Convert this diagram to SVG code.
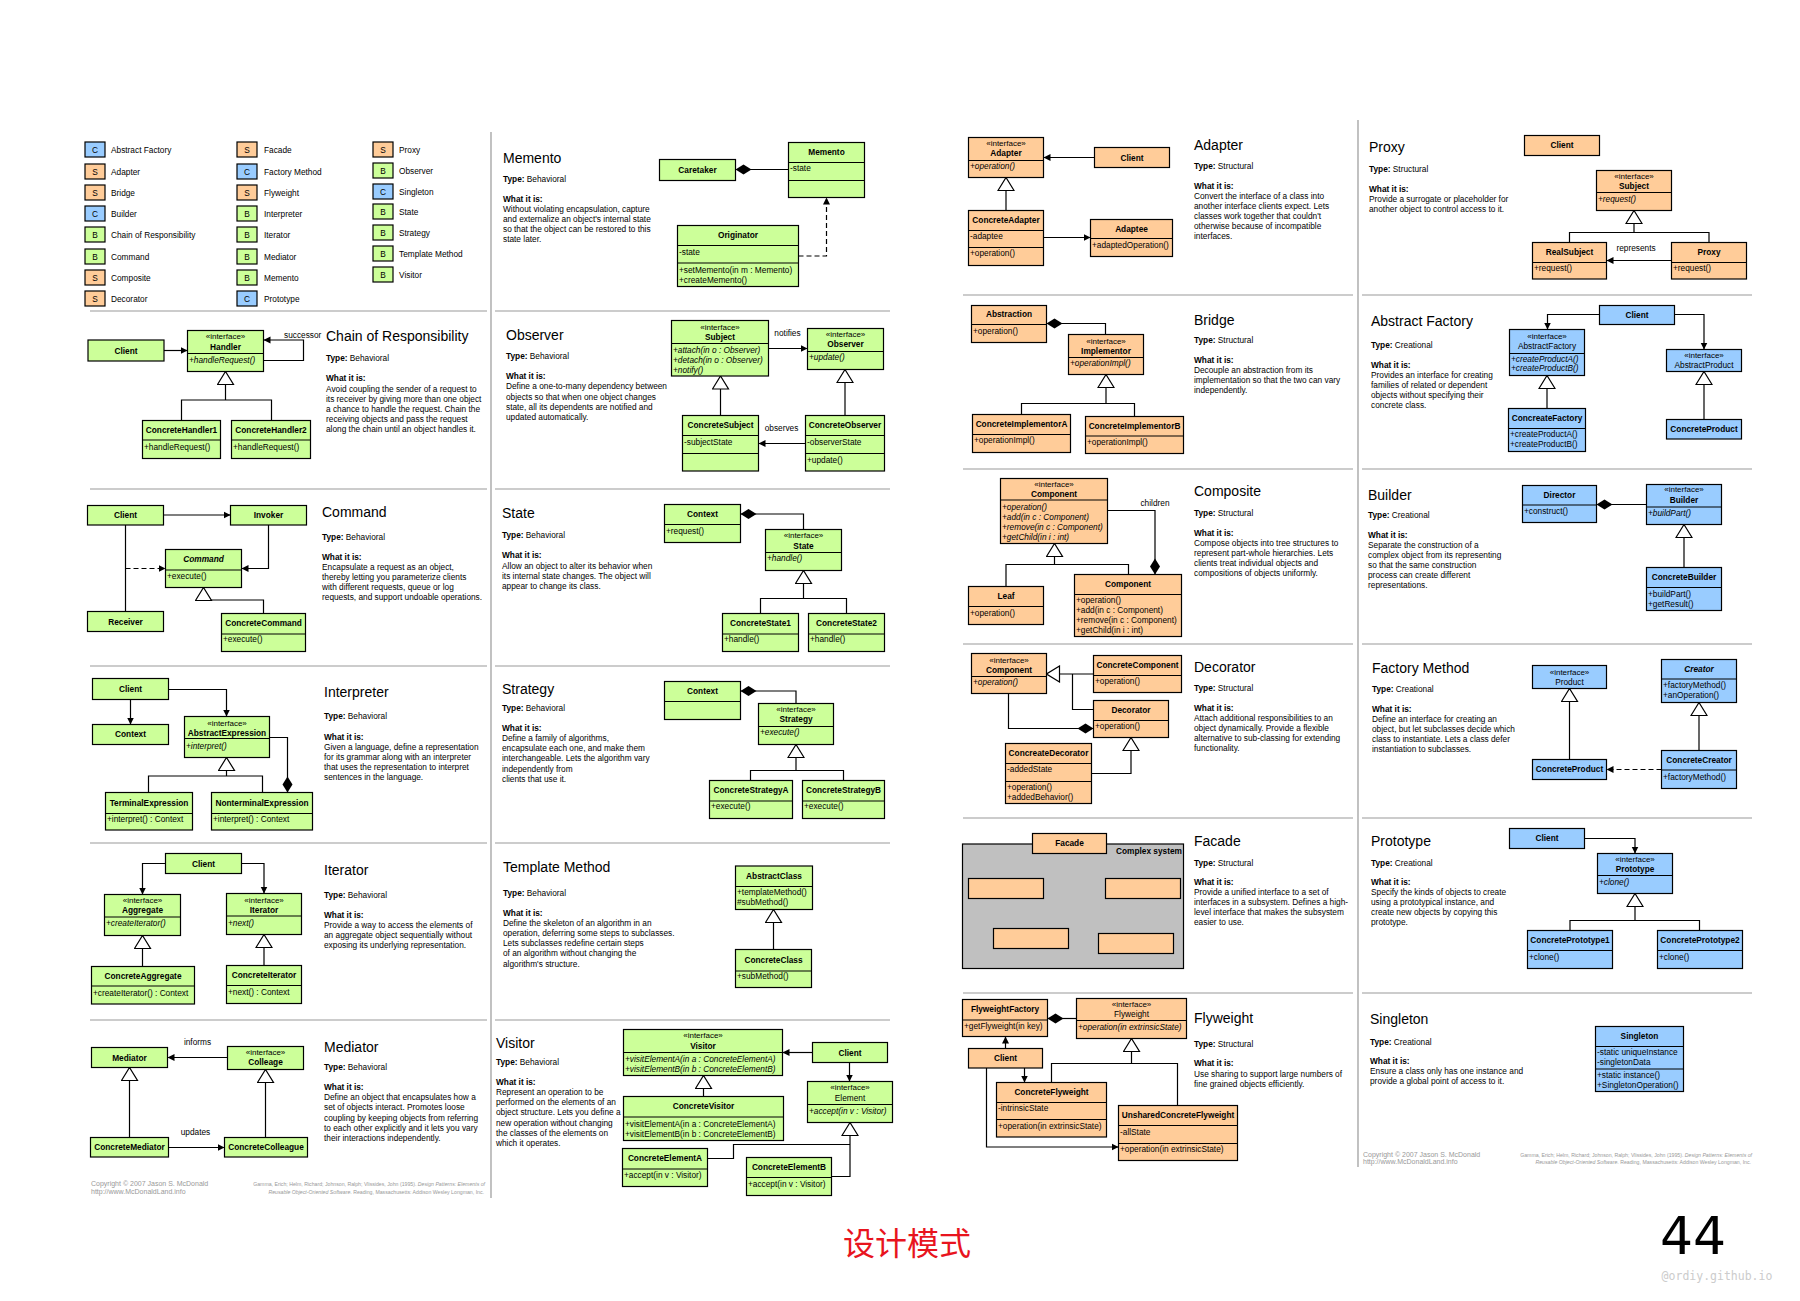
<svg xmlns="http://www.w3.org/2000/svg" width="1800" height="1301" viewBox="0 0 1800 1301">
<defs>
<style>
text{font-family:"Liberation Sans",Arial,sans-serif;font-size:8.3px;fill:#000}
.n{font-weight:bold;text-anchor:middle}
.c{text-anchor:middle}
.i{font-style:italic}
.s{text-anchor:middle;font-size:8px}
.t{font-size:14px}
.b{font-weight:bold}
.g{fill:#CCFF99;stroke:#000;stroke-width:1.2}
.o{fill:#FFCC99;stroke:#000;stroke-width:1.2}
.u{fill:#99CCFF;stroke:#000;stroke-width:1.2}
.ln{fill:none;stroke:#000;stroke-width:1.2}
.sep{stroke:#999;stroke-width:1.2}
.cn{fill:none;stroke:#000;stroke-width:1.2}
.th{fill:none;stroke:#000;stroke-width:0.8}
.da{stroke-dasharray:5,3}
.ft{font-size:7px;fill:#999}
.fc{font-size:5.2px;fill:#999;text-anchor:end}
</style>
<marker id="a" viewBox="0 -4 7 8" refX="7" refY="0" markerWidth="7" markerHeight="8" markerUnits="userSpaceOnUse" orient="auto"><path d="M0,-3.5 L7,0 L0,3.5 z" fill="#000"/></marker>
<marker id="tr" viewBox="-1 -9 15 18" refX="13" refY="0" markerWidth="15" markerHeight="18" markerUnits="userSpaceOnUse" orient="auto"><path d="M0,-8 L13,0 L0,8 z" fill="#fff" stroke="#000" stroke-width="1.2"/></marker>
<marker id="dm" viewBox="-1 -6 18 12" refX="0" refY="0" markerWidth="18" markerHeight="12" markerUnits="userSpaceOnUse" orient="auto"><path d="M0,0 L8,-5 L16,0 L8,5 z" fill="#000"/></marker>
</defs>
<rect width="1800" height="1301" fill="#fff"/>

<!-- separators -->
<g id="separators">
<path class="sep" d="M90,311H487M90,489H487M90,666H487M90,843H487M90,1020H487"/>
<path class="sep" d="M495,311H890M495,489H890M495,666H890M495,843H890M495,1020H890"/>
<path class="sep" d="M963,295H1353M963,469H1353M963,644H1353M963,818H1353M963,993H1353"/>
<path class="sep" d="M1362,295H1752M1362,469H1752M1362,644H1752M1362,818H1752M1362,993H1752"/>
<path class="sep" d="M491,132V1198M1358,120V1167"/>
</g>

<!-- legend -->
<g id="legend">
<rect class="u" x="85" y="142" width="20" height="15"/><text class="c" x="95" y="152.5">C</text><text x="111" y="152.5">Abstract Factory</text>
<rect class="o" x="85" y="164" width="20" height="15"/><text class="c" x="95" y="174.5">S</text><text x="111" y="174.5">Adapter</text>
<rect class="o" x="85" y="185" width="20" height="15"/><text class="c" x="95" y="195.5">S</text><text x="111" y="195.5">Bridge</text>
<rect class="u" x="85" y="206" width="20" height="15"/><text class="c" x="95" y="216.5">C</text><text x="111" y="216.5">Builder</text>
<rect class="g" x="85" y="227" width="20" height="15"/><text class="c" x="95" y="237.5">B</text><text x="111" y="237.5">Chain of Responsibility</text>
<rect class="g" x="85" y="249" width="20" height="15"/><text class="c" x="95" y="259.5">B</text><text x="111" y="259.5">Command</text>
<rect class="o" x="85" y="270" width="20" height="15"/><text class="c" x="95" y="280.5">S</text><text x="111" y="280.5">Composite</text>
<rect class="o" x="85" y="291" width="20" height="15"/><text class="c" x="95" y="301.5">S</text><text x="111" y="301.5">Decorator</text>
<rect class="o" x="237" y="142" width="20" height="15"/><text class="c" x="247" y="152.5">S</text><text x="264" y="152.5">Facade</text>
<rect class="u" x="237" y="164" width="20" height="15"/><text class="c" x="247" y="174.5">C</text><text x="264" y="174.5">Factory Method</text>
<rect class="o" x="237" y="185" width="20" height="15"/><text class="c" x="247" y="195.5">S</text><text x="264" y="195.5">Flyweight</text>
<rect class="g" x="237" y="206" width="20" height="15"/><text class="c" x="247" y="216.5">B</text><text x="264" y="216.5">Interpreter</text>
<rect class="g" x="237" y="227" width="20" height="15"/><text class="c" x="247" y="237.5">B</text><text x="264" y="237.5">Iterator</text>
<rect class="g" x="237" y="249" width="20" height="15"/><text class="c" x="247" y="259.5">B</text><text x="264" y="259.5">Mediator</text>
<rect class="g" x="237" y="270" width="20" height="15"/><text class="c" x="247" y="280.5">B</text><text x="264" y="280.5">Memento</text>
<rect class="u" x="237" y="291" width="20" height="15"/><text class="c" x="247" y="301.5">C</text><text x="264" y="301.5">Prototype</text>
<rect class="o" x="373" y="142" width="20" height="15"/><text class="c" x="383" y="152.5">S</text><text x="399" y="152.5">Proxy</text>
<rect class="g" x="373" y="163" width="20" height="15"/><text class="c" x="383" y="173.5">B</text><text x="399" y="173.5">Observer</text>
<rect class="u" x="373" y="184" width="20" height="15"/><text class="c" x="383" y="194.5">C</text><text x="399" y="194.5">Singleton</text>
<rect class="g" x="373" y="204" width="20" height="15"/><text class="c" x="383" y="214.5">B</text><text x="399" y="214.5">State</text>
<rect class="g" x="373" y="225" width="20" height="15"/><text class="c" x="383" y="235.5">B</text><text x="399" y="235.5">Strategy</text>
<rect class="g" x="373" y="246" width="20" height="15"/><text class="c" x="383" y="256.5">B</text><text x="399" y="256.5">Template Method</text>
<rect class="g" x="373" y="267" width="20" height="15"/><text class="c" x="383" y="277.5">B</text><text x="399" y="277.5">Visitor</text>
</g>

<!-- descriptions -->
<g id="descriptions">
<text class="t" x="326" y="341">Chain of Responsibility</text>
<text x="326" y="361"><tspan class="b">Type:</tspan> Behavioral</text>
<text class="b" x="326" y="381">What it is:</text>
<text x="326" y="391.5">Avoid coupling the sender of a request to</text>
<text x="326" y="401.5">its receiver by giving more than one object</text>
<text x="326" y="412">a chance to handle the request. Chain the</text>
<text x="326" y="422">receiving objects and pass the request</text>
<text x="326" y="432">along the chain until an object handles it.</text>

<text class="t" x="322" y="517">Command</text>
<text x="322" y="540"><tspan class="b">Type:</tspan> Behavioral</text>
<text class="b" x="322" y="560">What it is:</text>
<text x="322" y="570">Encapsulate a request as an object,</text>
<text x="322" y="580">thereby letting you parameterize clients</text>
<text x="322" y="590">with different requests, queue or log</text>
<text x="322" y="600">requests, and support undoable operations.</text>

<text class="t" x="324" y="697">Interpreter</text>
<text x="324" y="719"><tspan class="b">Type:</tspan> Behavioral</text>
<text class="b" x="324" y="740">What it is:</text>
<text x="324" y="750">Given a language, define a representation</text>
<text x="324" y="760">for its grammar along with an interpreter</text>
<text x="324" y="770">that uses the representation to interpret</text>
<text x="324" y="780">sentences in the language.</text>

<text class="t" x="324" y="875">Iterator</text>
<text x="324" y="898"><tspan class="b">Type:</tspan> Behavioral</text>
<text class="b" x="324" y="918">What it is:</text>
<text x="324" y="928">Provide a way to access the elements of</text>
<text x="324" y="938">an aggregate object sequentially without</text>
<text x="324" y="948">exposing its underlying representation.</text>

<text class="t" x="324" y="1052">Mediator</text>
<text x="324" y="1070"><tspan class="b">Type:</tspan> Behavioral</text>
<text class="b" x="324" y="1090">What it is:</text>
<text x="324" y="1100">Define an object that encapsulates how a</text>
<text x="324" y="1110">set of objects interact. Promotes loose</text>
<text x="324" y="1121">coupling by keeping objects from referring</text>
<text x="324" y="1131">to each other explicitly and it lets you vary</text>
<text x="324" y="1141">their interactions independently.</text>

<text class="t" x="503" y="163">Memento</text>
<text x="503" y="182"><tspan class="b">Type:</tspan> Behavioral</text>
<text class="b" x="503" y="202">What it is:</text>
<text x="503" y="212">Without violating encapsulation, capture</text>
<text x="503" y="222">and externalize an object's internal state</text>
<text x="503" y="232">so that the object can be restored to this</text>
<text x="503" y="242">state later.</text>

<text class="t" x="506" y="339.5">Observer</text>
<text x="506" y="358.5"><tspan class="b">Type:</tspan> Behavioral</text>
<text class="b" x="506" y="378.5">What it is:</text>
<text x="506" y="389">Define a one-to-many dependency between</text>
<text x="506" y="399.5">objects so that when one object changes</text>
<text x="506" y="410">state, all its dependents are notified and</text>
<text x="506" y="420">updated automatically.</text>

<text class="t" x="502" y="518">State</text>
<text x="502" y="538"><tspan class="b">Type:</tspan> Behavioral</text>
<text class="b" x="502" y="558">What it is:</text>
<text x="502" y="569">Allow an object to alter its behavior when</text>
<text x="502" y="579">its internal state changes. The object will</text>
<text x="502" y="589">appear to change its class.</text>

<text class="t" x="502" y="694">Strategy</text>
<text x="502" y="711"><tspan class="b">Type:</tspan> Behavioral</text>
<text class="b" x="502" y="731">What it is:</text>
<text x="502" y="741">Define a family of algorithms,</text>
<text x="502" y="751">encapsulate each one, and make them</text>
<text x="502" y="761">interchangeable. Lets the algorithm vary</text>
<text x="502" y="771.5">independently from</text>
<text x="502" y="781.5">clients that use it.</text>

<text class="t" x="503" y="871.5">Template Method</text>
<text x="503" y="896"><tspan class="b">Type:</tspan> Behavioral</text>
<text class="b" x="503" y="916">What it is:</text>
<text x="503" y="926">Define the skeleton of an algorithm in an</text>
<text x="503" y="936">operation, deferring some steps to subclasses.</text>
<text x="503" y="946">Lets subclasses redefine certain steps</text>
<text x="503" y="956">of an algorithm without changing the</text>
<text x="503" y="966.5">algorithm's structure.</text>

<text class="t" x="496" y="1047.5">Visitor</text>
<text x="496" y="1065"><tspan class="b">Type:</tspan> Behavioral</text>
<text class="b" x="496" y="1085">What it is:</text>
<text x="496" y="1095">Represent an operation to be</text>
<text x="496" y="1105">performed on the elements of an</text>
<text x="496" y="1115">object structure. Lets you define a</text>
<text x="496" y="1125.5">new operation without changing</text>
<text x="496" y="1135.5">the classes of the elements on</text>
<text x="496" y="1146">which it operates.</text>

<text class="t" x="1194" y="150">Adapter</text>
<text x="1194" y="169"><tspan class="b">Type:</tspan> Structural</text>
<text class="b" x="1194" y="189">What it is:</text>
<text x="1194" y="199">Convert the interface of a class into</text>
<text x="1194" y="209">another interface clients expect. Lets</text>
<text x="1194" y="219">classes work together that couldn't</text>
<text x="1194" y="229">otherwise because of incompatible</text>
<text x="1194" y="239">interfaces.</text>

<text class="t" x="1194" y="325">Bridge</text>
<text x="1194" y="343"><tspan class="b">Type:</tspan> Structural</text>
<text class="b" x="1194" y="363">What it is:</text>
<text x="1194" y="373">Decouple an abstraction from its</text>
<text x="1194" y="383">implementation so that the two can vary</text>
<text x="1194" y="393">independently.</text>

<text class="t" x="1194" y="496">Composite</text>
<text x="1194" y="516"><tspan class="b">Type:</tspan> Structural</text>
<text class="b" x="1194" y="536">What it is:</text>
<text x="1194" y="546">Compose objects into tree structures to</text>
<text x="1194" y="556">represent part-whole hierarchies. Lets</text>
<text x="1194" y="566">clients treat individual objects and</text>
<text x="1194" y="576">compositions of objects uniformly.</text>

<text class="t" x="1194" y="672">Decorator</text>
<text x="1194" y="691"><tspan class="b">Type:</tspan> Structural</text>
<text class="b" x="1194" y="711">What it is:</text>
<text x="1194" y="721">Attach additional responsibilities to an</text>
<text x="1194" y="731">object dynamically. Provide a flexible</text>
<text x="1194" y="741">alternative to sub-classing for extending</text>
<text x="1194" y="751">functionality.</text>

<text class="t" x="1194" y="846">Facade</text>
<text x="1194" y="866"><tspan class="b">Type:</tspan> Structural</text>
<text class="b" x="1194" y="885">What it is:</text>
<text x="1194" y="895">Provide a unified interface to a set of</text>
<text x="1194" y="905">interfaces in a subsystem. Defines a high-</text>
<text x="1194" y="915">level interface that makes the subsystem</text>
<text x="1194" y="925">easier to use.</text>

<text class="t" x="1194" y="1023">Flyweight</text>
<text x="1194" y="1047"><tspan class="b">Type:</tspan> Structural</text>
<text class="b" x="1194" y="1066">What it is:</text>
<text x="1194" y="1076.5">Use sharing to support large numbers of</text>
<text x="1194" y="1086.5">fine grained objects efficiently.</text>

<text class="t" x="1369" y="152">Proxy</text>
<text x="1369" y="172"><tspan class="b">Type:</tspan> Structural</text>
<text class="b" x="1369" y="192">What it is:</text>
<text x="1369" y="202">Provide a surrogate or placeholder for</text>
<text x="1369" y="212">another object to control access to it.</text>

<text class="t" x="1371" y="326">Abstract Factory</text>
<text x="1371" y="348"><tspan class="b">Type:</tspan> Creational</text>
<text class="b" x="1371" y="368">What it is:</text>
<text x="1371" y="378">Provides an interface for creating</text>
<text x="1371" y="388">families of related or dependent</text>
<text x="1371" y="398">objects without specifying their</text>
<text x="1371" y="408">concrete class.</text>

<text class="t" x="1368" y="500">Builder</text>
<text x="1368" y="518"><tspan class="b">Type:</tspan> Creational</text>
<text class="b" x="1368" y="538">What it is:</text>
<text x="1368" y="548">Separate the construction of a</text>
<text x="1368" y="558">complex object from its representing</text>
<text x="1368" y="568">so that the same construction</text>
<text x="1368" y="578">process can create different</text>
<text x="1368" y="588">representations.</text>

<text class="t" x="1372" y="673">Factory Method</text>
<text x="1372" y="692"><tspan class="b">Type:</tspan> Creational</text>
<text class="b" x="1372" y="712">What it is:</text>
<text x="1372" y="722">Define an interface for creating an</text>
<text x="1372" y="732">object, but let subclasses decide which</text>
<text x="1372" y="742">class to instantiate. Lets a class defer</text>
<text x="1372" y="752">instantiation to subclasses.</text>

<text class="t" x="1371" y="846">Prototype</text>
<text x="1371" y="866"><tspan class="b">Type:</tspan> Creational</text>
<text class="b" x="1371" y="885">What it is:</text>
<text x="1371" y="895">Specify the kinds of objects to create</text>
<text x="1371" y="905">using a prototypical instance, and</text>
<text x="1371" y="915">create new objects by copying this</text>
<text x="1371" y="925">prototype.</text>

<text class="t" x="1370" y="1024">Singleton</text>
<text x="1370" y="1045"><tspan class="b">Type:</tspan> Creational</text>
<text class="b" x="1370" y="1064">What it is:</text>
<text x="1370" y="1074">Ensure a class only has one instance and</text>
<text x="1370" y="1084">provide a global point of access to it.</text>
</g>

<!-- connectors -->
<g id="connectors">
<!-- CoR -->
<path class="cn" d="M164,350.5H187.5" marker-end="url(#a)"/>
<path class="cn" d="M263.5,360.5H303.5V340H263.5" marker-end="url(#a)"/>
<path class="cn" d="M181.5,420.5V400H271.5V420.5"/>
<path class="cn" d="M225.5,400V371.5" marker-end="url(#tr)"/>
<text x="284" y="338">successor</text>
<!-- Command -->
<path class="cn" d="M163.5,515H230.5" marker-end="url(#a)"/>
<path class="cn" d="M268.5,525V568.5H241.5" marker-end="url(#a)"/>
<path class="cn" d="M125.5,525V611.5"/>
<path class="cn da" d="M125.5,568.5H165.5" marker-end="url(#a)"/>
<path class="cn" d="M263.5,613.5V600H203.5"/>
<path class="cn" d="M203.5,600V587.5" marker-end="url(#tr)"/>
<!-- Interpreter -->
<path class="cn" d="M130.5,699.5V724.5" marker-end="url(#a)"/>
<path class="cn" d="M168.5,689.5H226.5V716.5" marker-end="url(#a)"/>
<path class="cn" d="M148.5,792.5V776H262.5V792.5"/>
<path class="cn" d="M226.5,776V757.5" marker-end="url(#tr)"/>
<path class="cn" d="M287.5,792.5V737.5H269.5" marker-start="url(#dm)"/>
<!-- Iterator -->
<path class="cn" d="M165.5,863.5H142.5V894.5" marker-end="url(#a)"/>
<path class="cn" d="M241.5,863.5H264V893.5" marker-end="url(#a)"/>
<path class="cn" d="M142.5,966.5V935.5" marker-end="url(#tr)"/>
<path class="cn" d="M264,965.5V934.5" marker-end="url(#tr)"/>
<!-- Mediator -->
<path class="cn" d="M227.5,1057.5H167.5" marker-end="url(#a)"/>
<text class="c" x="197.5" y="1045">informs</text>
<path class="cn" d="M129.5,1137.5V1067.5" marker-end="url(#tr)"/>
<path class="cn" d="M265.5,1137.5V1069.5" marker-end="url(#tr)"/>
<path class="cn" d="M168.5,1147.5H224.5" marker-end="url(#a)"/>
<text class="c" x="195.5" y="1135">updates</text>
<!-- Memento -->
<path class="cn" d="M735.5,169.5H788.5" marker-start="url(#dm)"/>
<path class="cn da" d="M798.5,256H826.5V197.5" marker-end="url(#a)"/>
<!-- Observer -->
<path class="cn" d="M768.5,348.5H807.5" marker-end="url(#a)"/>
<text class="c" x="787.5" y="336">notifies</text>
<path class="cn" d="M720.5,415.5V376" marker-end="url(#tr)"/>
<path class="cn" d="M845,415.5V369.5" marker-end="url(#tr)"/>
<path class="cn" d="M805.5,443.5H758.5" marker-end="url(#a)"/>
<text class="c" x="781.5" y="431">observes</text>
<!-- State -->
<path class="cn" d="M740.5,514H803.5V529.5" marker-start="url(#dm)"/>
<path class="cn" d="M760.5,613.5V598.5H846.5V613.5"/>
<path class="cn" d="M803.5,598.5V570.5" marker-end="url(#tr)"/>
<!-- Strategy -->
<path class="cn" d="M740.5,691H796V703.5" marker-start="url(#dm)"/>
<path class="cn" d="M750.5,780.5V770.5H843.5V780.5"/>
<path class="cn" d="M796,770.5V744.5" marker-end="url(#tr)"/>
<!-- Template -->
<path class="cn" d="M773.5,949.5V909.5" marker-end="url(#tr)"/>
<!-- Visitor -->
<path class="cn" d="M812.5,1052.5H782.5" marker-end="url(#a)"/>
<path class="cn" d="M849.5,1062.5V1081.5" marker-end="url(#a)"/>
<path class="cn" d="M703.5,1096.5V1075.5" marker-end="url(#tr)"/>
<path class="cn" d="M707.5,1158.5H733.5V1144.5H850"/>
<path class="cn" d="M831.5,1176.5H850V1122.5" marker-end="url(#tr)"/>
<!-- Adapter -->
<path class="cn" d="M1094.5,157.5H1043.5" marker-end="url(#a)"/>
<path class="cn" d="M1006,210.5V177.5" marker-end="url(#tr)"/>
<path class="cn" d="M1043.5,237.5H1090.5" marker-end="url(#a)"/>
<!-- Bridge -->
<path class="cn" d="M1046.5,323.5H1105.5V334.5" marker-start="url(#dm)"/>
<path class="cn" d="M1021.5,414.5V403.5H1134.5V416.5"/>
<path class="cn" d="M1106,403.5V374.5" marker-end="url(#tr)"/>
<!-- Composite -->
<path class="cn" d="M1006,586.5V564.5H1128.5V574.5"/>
<path class="cn" d="M1054.5,564.5V543.5" marker-end="url(#tr)"/>
<path class="cn" d="M1155,574.5V510.5H1107.5" marker-start="url(#dm)"/>
<text class="c" x="1155" y="506">children</text>
<!-- Decorator -->
<path class="cn" d="M1093.5,674H1046.5" marker-end="url(#tr)"/>
<path class="cn" d="M1072.5,674V709.5H1093.5"/>
<path class="cn" d="M1093.5,728.5H1008.5V693.5" marker-start="url(#dm)"/>
<path class="cn" d="M1091.5,773.5H1131V737.5" marker-end="url(#tr)"/>
<!-- Facade -->
<path class="th" d="M1069.5,853.5L1045,885" marker-end="url(#a)"/>
<path class="th" d="M1069.5,853.5L1105,886.5" marker-end="url(#a)"/>
<path class="th" d="M1069.5,853.5L1051,928" marker-end="url(#a)"/>
<path class="th" d="M1069.5,853.5L1117,933" marker-end="url(#a)"/>
<!-- Flyweight -->
<path class="cn" d="M1047.5,1018.5H1076.5" marker-start="url(#dm)"/>
<path class="cn" d="M1005.5,1048.5V1036.5" marker-end="url(#a)"/>
<path class="cn" d="M1024.5,1068V1082.5" marker-end="url(#a)"/>
<path class="cn" d="M986.5,1068V1147H1118.5" marker-end="url(#a)"/>
<path class="cn" d="M1051.5,1082.5V1063.5H1177.5V1105.5"/>
<path class="cn" d="M1131.5,1063.5V1038.5" marker-end="url(#tr)"/>
<!-- Proxy -->
<path class="cn" d="M1569.5,242.5V232.5H1709V242.5"/>
<path class="cn" d="M1634,232.5V210.5" marker-end="url(#tr)"/>
<path class="cn" d="M1671.5,260.5H1606.5" marker-end="url(#a)"/>
<text class="c" x="1636" y="251">represents</text>
<!-- Abstract Factory -->
<path class="cn" d="M1599.5,314.5H1547.5V329.5" marker-end="url(#a)"/>
<path class="cn" d="M1674.5,314.5H1704V349.5" marker-end="url(#a)"/>
<path class="cn" d="M1547,408.5V375.5" marker-end="url(#tr)"/>
<path class="cn" d="M1704,419.5V371.5" marker-end="url(#tr)"/>
<!-- Builder -->
<path class="cn" d="M1596.5,504.5H1646.5" marker-start="url(#dm)"/>
<path class="cn" d="M1684,567.5V524.5" marker-end="url(#tr)"/>
<!-- Factory Method -->
<path class="cn" d="M1569.5,759.5V688.5" marker-end="url(#tr)"/>
<path class="cn" d="M1699,750.5V702.5" marker-end="url(#tr)"/>
<path class="cn da" d="M1661.5,769.5H1606.5" marker-end="url(#a)"/>
<!-- Prototype -->
<path class="cn" d="M1584.5,838.5H1635V853.5" marker-end="url(#a)"/>
<path class="cn" d="M1570,930.5V920.5H1699.5V930.5"/>
<path class="cn" d="M1635,920.5V893.5" marker-end="url(#tr)"/>
</g>

<!-- Chain of Responsibility nodes -->
<g id="cor-client"><rect class="g" x="88" y="340" width="76" height="21"/><text class="n" x="126" y="353.5">Client</text></g>
<g id="cor-handler"><rect class="g" x="187.5" y="330.5" width="76" height="41"/><path class="ln" d="M187.5,353.5H263.5"/><text class="s" x="225.5" y="339">«interface»</text><text class="n" x="225.5" y="349.5">Handler</text><text class="i" x="189" y="362.5">+handleRequest()</text></g>
<g id="cor-ch1"><rect class="g" x="142.5" y="420.5" width="78" height="38"/><path class="ln" d="M142.5,440H220.5"/><text class="n" x="181.5" y="433">ConcreteHandler1</text><text x="144" y="450">+handleRequest()</text></g>
<g id="cor-ch2"><rect class="g" x="231.5" y="420.5" width="79" height="38"/><path class="ln" d="M231.5,440H310.5"/><text class="n" x="271" y="433">ConcreteHandler2</text><text x="233" y="450">+handleRequest()</text></g>

<!-- Command nodes -->
<g id="cmd-client"><rect class="g" x="87.5" y="505.5" width="76" height="19.5"/><text class="n" x="125.5" y="518">Client</text></g>
<g id="cmd-invoker"><rect class="g" x="230.5" y="505.5" width="76" height="19.5"/><text class="n" x="268.5" y="518">Invoker</text></g>
<g id="cmd-command"><rect class="g" x="165.5" y="549.5" width="76" height="38"/><path class="ln" d="M165.5,570H241.5"/><text class="n i" x="203.5" y="562">Command</text><text x="167" y="579">+execute()</text></g>
<g id="cmd-receiver"><rect class="g" x="87.5" y="611.5" width="76" height="20"/><text class="n" x="125.5" y="624.5">Receiver</text></g>
<g id="cmd-concrete"><rect class="g" x="221.5" y="613.5" width="84" height="38"/><path class="ln" d="M221.5,634H305.5"/><text class="n" x="263.5" y="626">ConcreteCommand</text><text x="223" y="642">+execute()</text></g>

<!-- Interpreter nodes -->
<g id="int-client"><rect class="g" x="92.5" y="678.5" width="76" height="21"/><text class="n" x="130.5" y="692">Client</text></g>
<g id="int-context"><rect class="g" x="92.5" y="724.5" width="76" height="20"/><text class="n" x="130.5" y="737">Context</text></g>
<g id="int-abstract"><rect class="g" x="184.5" y="716.5" width="85" height="41"/><path class="ln" d="M184.5,738.5H269.5"/><text class="s" x="227" y="725.5">«interface»</text><text class="n" x="227" y="736">AbstractExpression</text><text class="i" x="186" y="749">+interpret()</text></g>
<g id="int-terminal"><rect class="g" x="105.5" y="792.5" width="87" height="37.5"/><path class="ln" d="M105.5,813.5H192.5"/><text class="n" x="149" y="806">TerminalExpression</text><text x="107" y="822">+interpret() : Context</text></g>
<g id="int-nonterminal"><rect class="g" x="211.5" y="792.5" width="101" height="37.5"/><path class="ln" d="M211.5,813.5H312.5"/><text class="n" x="262" y="806">NonterminalExpression</text><text x="213" y="822">+interpret() : Context</text></g>

<!-- Iterator nodes -->
<g id="it-client"><rect class="g" x="165.5" y="853.5" width="76" height="20"/><text class="n" x="203.5" y="866.5">Client</text></g>
<g id="it-aggregate"><rect class="g" x="104.5" y="894.5" width="76" height="41"/><path class="ln" d="M104.5,917H180.5"/><text class="s" x="142.5" y="903">«interface»</text><text class="n" x="142.5" y="913">Aggregate</text><text class="i" x="106" y="925.5">+createIterator()</text></g>
<g id="it-iterator"><rect class="g" x="226.5" y="893.5" width="75" height="41"/><path class="ln" d="M226.5,916H301.5"/><text class="s" x="264" y="903">«interface»</text><text class="n" x="264" y="913">Iterator</text><text class="i" x="228" y="925.5">+next()</text></g>
<g id="it-cagg"><rect class="g" x="91.5" y="966.5" width="103" height="37.5"/><path class="ln" d="M91.5,986H194.5"/><text class="n" x="143" y="979">ConcreteAggregate</text><text x="93" y="996">+createIterator() : Context</text></g>
<g id="it-cit"><rect class="g" x="226.5" y="965.5" width="75" height="38"/><path class="ln" d="M226.5,985.5H301.5"/><text class="n" x="264" y="978">ConcreteIterator</text><text x="228" y="995">+next() : Context</text></g>

<!-- Mediator nodes -->
<g id="med-mediator"><rect class="g" x="91.5" y="1047.5" width="76" height="20"/><text class="n" x="129.5" y="1060.5">Mediator</text></g>
<g id="med-colleague"><rect class="g" x="227.5" y="1046.5" width="76" height="23"/><text class="s" x="265.5" y="1055">«interface»</text><text class="n" x="265.5" y="1065">Colleage</text></g>
<g id="med-cmed"><rect class="g" x="90.5" y="1137.5" width="78" height="19.5"/><text class="n" x="129.5" y="1150">ConcreteMediator</text></g>
<g id="med-ccol"><rect class="g" x="224.5" y="1137.5" width="83" height="19.5"/><text class="n" x="266" y="1150">ConcreteColleague</text></g>

<!-- Memento nodes -->
<g id="mem-caretaker"><rect class="g" x="659.5" y="159.5" width="76" height="21"/><text class="n" x="697.5" y="172.5">Caretaker</text></g>
<g id="mem-memento"><rect class="g" x="788.5" y="142.5" width="76" height="55"/><path class="ln" d="M788.5,162.5H864.5M788.5,180.5H864.5"/><text class="n" x="826.5" y="155">Memento</text><text x="790" y="170.5">-state</text></g>
<g id="mem-originator"><rect class="g" x="677.5" y="225.5" width="121" height="61"/><path class="ln" d="M677.5,245.5H798.5M677.5,263H798.5"/><text class="n" x="738" y="238">Originator</text><text x="679" y="255">-state</text><text x="679" y="273">+setMemento(in m : Memento)</text><text x="679" y="283">+createMemento()</text></g>

<!-- Observer nodes -->
<g id="obs-subject"><rect class="g" x="671.5" y="320.5" width="97" height="55.5"/><path class="ln" d="M671.5,343.5H768.5"/><text class="s" x="720" y="330">«interface»</text><text class="n" x="720" y="340">Subject</text><text class="i" x="673" y="353">+attach(in o : Observer)</text><text class="i" x="673" y="363">+detach(in o : Observer)</text><text class="i" x="673" y="373">+notify()</text></g>
<g id="obs-observer"><rect class="g" x="807.5" y="328.5" width="76" height="41"/><path class="ln" d="M807.5,351.5H883.5"/><text class="s" x="845.5" y="337">«interface»</text><text class="n" x="845.5" y="347">Observer</text><text class="i" x="809" y="360">+update()</text></g>
<g id="obs-csubject"><rect class="g" x="682.5" y="415.5" width="76" height="55.5"/><path class="ln" d="M682.5,435.5H758.5M682.5,453.5H758.5"/><text class="n" x="720.5" y="428">ConcreteSubject</text><text x="684" y="445">-subjectState</text></g>
<g id="obs-cobserver"><rect class="g" x="805.5" y="415.5" width="79" height="55.5"/><path class="ln" d="M805.5,435.5H884.5M805.5,453.5H884.5"/><text class="n" x="845" y="428">ConcreteObserver</text><text x="807" y="445">-observerState</text><text x="807" y="463">+update()</text></g>

<!-- State nodes -->
<g id="st-context"><rect class="g" x="664.5" y="504.5" width="76" height="38"/><path class="ln" d="M664.5,524.5H740.5"/><text class="n" x="702.5" y="517">Context</text><text x="666" y="533.5">+request()</text></g>
<g id="st-state"><rect class="g" x="765.5" y="529.5" width="76" height="41"/><path class="ln" d="M765.5,552.5H841.5"/><text class="s" x="803.5" y="538">«interface»</text><text class="n" x="803.5" y="548.5">State</text><text class="i" x="767" y="561">+handle()</text></g>
<g id="st-cs1"><rect class="g" x="722.5" y="613.5" width="76" height="38"/><path class="ln" d="M722.5,634H798.5"/><text class="n" x="760.5" y="626">ConcreteState1</text><text x="724" y="642">+handle()</text></g>
<g id="st-cs2"><rect class="g" x="808.5" y="613.5" width="76" height="38"/><path class="ln" d="M808.5,634H884.5"/><text class="n" x="846.5" y="626">ConcreteState2</text><text x="810" y="642">+handle()</text></g>

<!-- Strategy nodes -->
<g id="sg-context"><rect class="g" x="664.5" y="681.5" width="76" height="38"/><path class="ln" d="M664.5,701.5H740.5"/><text class="n" x="702.5" y="694">Context</text></g>
<g id="sg-strategy"><rect class="g" x="758.5" y="703.5" width="75" height="41"/><path class="ln" d="M758.5,726.5H833.5"/><text class="s" x="796" y="712">«interface»</text><text class="n" x="796" y="722">Strategy</text><text class="i" x="760" y="735">+execute()</text></g>
<g id="sg-a"><rect class="g" x="709.5" y="780.5" width="83" height="38"/><path class="ln" d="M709.5,801H792.5"/><text class="n" x="751" y="793">ConcreteStrategyA</text><text x="711" y="809">+execute()</text></g>
<g id="sg-b"><rect class="g" x="802.5" y="780.5" width="82" height="38"/><path class="ln" d="M802.5,801H884.5"/><text class="n" x="843.5" y="793">ConcreteStrategyB</text><text x="804" y="809">+execute()</text></g>

<!-- Template nodes -->
<g id="tm-abstract"><rect class="g" x="735.5" y="866" width="77" height="43.5"/><path class="ln" d="M735.5,886.5H812.5"/><text class="n" x="774" y="879">AbstractClass</text><text x="737" y="895">+templateMethod()</text><text x="737" y="905">#subMethod()</text></g>
<g id="tm-concrete"><rect class="g" x="735.5" y="949.5" width="76" height="38"/><path class="ln" d="M735.5,971H811.5"/><text class="n" x="773.5" y="963">ConcreteClass</text><text x="737" y="979">+subMethod()</text></g>

<!-- Visitor nodes -->
<g id="vi-visitor"><rect class="g" x="623.5" y="1029.5" width="159" height="46"/><path class="ln" d="M623.5,1052.5H782.5"/><text class="s" x="703" y="1038">«interface»</text><text class="n" x="703" y="1049">Visitor</text><text class="i" x="625" y="1062">+visitElementA(in a : ConcreteElementA)</text><text class="i" x="625" y="1072">+visitElementB(in b : ConcreteElementB)</text></g>
<g id="vi-client"><rect class="g" x="812.5" y="1042.5" width="75" height="20"/><text class="n" x="850" y="1055.5">Client</text></g>
<g id="vi-element"><rect class="g" x="807.5" y="1081.5" width="85" height="41"/><path class="ln" d="M807.5,1104.5H892.5"/><text class="s" x="850" y="1090">«interface»</text><text class="c" x="850" y="1101">Element</text><text class="i" x="809" y="1114">+accept(in v : Visitor)</text></g>
<g id="vi-cvisitor"><rect class="g" x="623.5" y="1096.5" width="160" height="44"/><path class="ln" d="M623.5,1117H783.5"/><text class="n" x="703.5" y="1109">ConcreteVisitor</text><text x="625" y="1126.5">+visitElementA(in a : ConcreteElementA)</text><text x="625" y="1136.5">+visitElementB(in b : ConcreteElementB)</text></g>
<g id="vi-cea"><rect class="g" x="622.5" y="1148.5" width="85" height="38"/><path class="ln" d="M622.5,1169H707.5"/><text class="n" x="665" y="1161">ConcreteElementA</text><text x="624" y="1178">+accept(in v : Visitor)</text></g>
<g id="vi-ceb"><rect class="g" x="746.5" y="1157.5" width="85" height="38"/><path class="ln" d="M746.5,1177.5H831.5"/><text class="n" x="789" y="1170">ConcreteElementB</text><text x="748" y="1187">+accept(in v : Visitor)</text></g>

<!-- Adapter nodes -->
<g id="ad-adapter"><rect class="o" x="968.5" y="137.5" width="75" height="40"/><path class="ln" d="M968.5,160.5H1043.5"/><text class="s" x="1006" y="146">«interface»</text><text class="n" x="1006" y="156">Adapter</text><text class="i" x="970" y="169">+operation()</text></g>
<g id="ad-client"><rect class="o" x="1094.5" y="147.5" width="75" height="20"/><text class="n" x="1132" y="160.5">Client</text></g>
<g id="ad-concrete"><rect class="o" x="968.5" y="210.5" width="75" height="55"/><path class="ln" d="M968.5,230.5H1043.5M968.5,247.5H1043.5"/><text class="n" x="1006" y="223">ConcreteAdapter</text><text x="970" y="239">-adaptee</text><text x="970" y="256">+operation()</text></g>
<g id="ad-adaptee"><rect class="o" x="1090.5" y="219.5" width="82" height="37"/><path class="ln" d="M1090.5,238.5H1172.5"/><text class="n" x="1131.5" y="232">Adaptee</text><text x="1092" y="248">+adaptedOperation()</text></g>

<!-- Bridge nodes -->
<g id="br-abstraction"><rect class="o" x="971.5" y="305.5" width="75" height="37"/><path class="ln" d="M971.5,324.5H1046.5"/><text class="n" x="1009" y="317">Abstraction</text><text x="973" y="334">+operation()</text></g>
<g id="br-implementor"><rect class="o" x="1068.5" y="334.5" width="75" height="40"/><path class="ln" d="M1068.5,357.5H1143.5"/><text class="s" x="1106" y="344">«interface»</text><text class="n" x="1106" y="354">Implementor</text><text class="i" x="1070" y="366">+operationImpl()</text></g>
<g id="br-cia"><rect class="o" x="972.5" y="414.5" width="98" height="38"/><path class="ln" d="M972.5,434.5H1070.5"/><text class="n" x="1021.5" y="427">ConcreteImplementorA</text><text x="974" y="443">+operationImpl()</text></g>
<g id="br-cib"><rect class="o" x="1085.5" y="416.5" width="98" height="37"/><path class="ln" d="M1085.5,436H1183.5"/><text class="n" x="1134.5" y="429">ConcreteImplementorB</text><text x="1087" y="445">+operationImpl()</text></g>

<!-- Composite nodes -->
<g id="co-component"><rect class="o" x="1000.5" y="478.5" width="107" height="65"/><path class="ln" d="M1000.5,500H1107.5"/><text class="s" x="1054" y="487">«interface»</text><text class="n" x="1054" y="497">Component</text><text class="i" x="1002" y="509.5">+operation()</text><text class="i" x="1002" y="519.5">+add(in c : Component)</text><text class="i" x="1002" y="529.5">+remove(in c : Component)</text><text class="i" x="1002" y="539.5">+getChild(in i : int)</text></g>
<g id="co-leaf"><rect class="o" x="968.5" y="586.5" width="75" height="38"/><path class="ln" d="M968.5,606.5H1043.5"/><text class="n" x="1006" y="599">Leaf</text><text x="970" y="616">+operation()</text></g>
<g id="co-composite"><rect class="o" x="1074.5" y="574.5" width="107" height="62"/><path class="ln" d="M1074.5,594.5H1181.5"/><text class="n" x="1128" y="587">Component</text><text x="1076" y="603">+operation()</text><text x="1076" y="613">+add(in c : Component)</text><text x="1076" y="623">+remove(in c : Component)</text><text x="1076" y="633">+getChild(in i : int)</text></g>

<!-- Decorator nodes -->
<g id="de-component"><rect class="o" x="971.5" y="653.5" width="75" height="40"/><path class="ln" d="M971.5,676.5H1046.5"/><text class="s" x="1009" y="662.5">«interface»</text><text class="n" x="1009" y="673">Component</text><text class="i" x="973" y="685">+operation()</text></g>
<g id="de-concrete"><rect class="o" x="1093.5" y="655.5" width="88" height="37"/><path class="ln" d="M1093.5,675.5H1181.5"/><text class="n" x="1137.5" y="668">ConcreteComponent</text><text x="1095" y="684">+operation()</text></g>
<g id="de-decorator"><rect class="o" x="1093.5" y="700.5" width="75" height="37"/><path class="ln" d="M1093.5,720.5H1168.5"/><text class="n" x="1131" y="713">Decorator</text><text x="1095" y="729">+operation()</text></g>
<g id="de-cdecorator"><rect class="o" x="1005.5" y="743.5" width="86" height="60"/><path class="ln" d="M1005.5,763.5H1091.5M1005.5,781.5H1091.5"/><text class="n" x="1048.5" y="756">ConcreateDecorator</text><text x="1007" y="772">-addedState</text><text x="1007" y="790">+operation()</text><text x="1007" y="800">+addedBehavior()</text></g>

<!-- Facade nodes -->
<g id="fa-system"><rect x="962.5" y="844" width="221" height="124.5" fill="#C0C0C0" stroke="#000" stroke-width="1.2"/><text class="b" x="1116" y="854">Complex system</text></g>
<g id="fa-b1"><rect class="o" x="968.5" y="878.5" width="75" height="20"/></g>
<g id="fa-b2"><rect class="o" x="1105.5" y="878.5" width="75" height="20"/></g>
<g id="fa-b3"><rect class="o" x="993.5" y="928.5" width="75" height="20"/></g>
<g id="fa-b4"><rect class="o" x="1098.5" y="933.5" width="75" height="20"/></g>
<g id="fa-facade"><rect class="o" x="1032.5" y="833.5" width="74" height="20"/><text class="n" x="1069.5" y="846">Facade</text></g>

<!-- Flyweight nodes -->
<g id="fl-factory"><rect class="o" x="962.5" y="999.5" width="85" height="37"/><path class="ln" d="M962.5,1020H1047.5"/><text class="n" x="1005" y="1012">FlyweightFactory</text><text x="964" y="1028.5">+getFlyweight(in key)</text></g>
<g id="fl-flyweight"><rect class="o" x="1076.5" y="998.5" width="110" height="40"/><path class="ln" d="M1076.5,1020.5H1186.5"/><text class="s" x="1131.5" y="1007">«interface»</text><text class="c" x="1131.5" y="1017">Flyweight</text><text class="i" x="1078" y="1030">+operation(in extrinsicState)</text></g>
<g id="fl-client"><rect class="o" x="968.5" y="1048.5" width="74" height="19.5"/><text class="n" x="1005.5" y="1061">Client</text></g>
<g id="fl-concrete"><rect class="o" x="996.5" y="1082.5" width="110" height="54.5"/><path class="ln" d="M996.5,1102.5H1106.5M996.5,1119.5H1106.5"/><text class="n" x="1051.5" y="1095">ConcreteFlyweight</text><text x="998" y="1111">-intrinsicState</text><text x="998" y="1129">+operation(in extrinsicState)</text></g>
<g id="fl-unshared"><rect class="o" x="1118.5" y="1105.5" width="119" height="55"/><path class="ln" d="M1118.5,1125.5H1237.5M1118.5,1143.5H1237.5"/><text class="n" x="1178" y="1118">UnsharedConcreteFlyweight</text><text x="1120" y="1135">-allState</text><text x="1120" y="1152">+operation(in extrinsicState)</text></g>

<!-- Proxy nodes -->
<g id="px-client"><rect class="o" x="1524.5" y="135.5" width="75" height="20"/><text class="n" x="1562" y="148">Client</text></g>
<g id="px-subject"><rect class="o" x="1596.5" y="170.5" width="75" height="40"/><path class="ln" d="M1596.5,192.5H1671.5"/><text class="s" x="1634" y="179">«interface»</text><text class="n" x="1634" y="189">Subject</text><text class="i" x="1598" y="202">+request()</text></g>
<g id="px-real"><rect class="o" x="1532.5" y="242.5" width="74" height="36.5"/><path class="ln" d="M1532.5,262.5H1606.5"/><text class="n" x="1569.5" y="255">RealSubject</text><text x="1534" y="271">+request()</text></g>
<g id="px-proxy"><rect class="o" x="1671.5" y="242.5" width="75" height="36.5"/><path class="ln" d="M1671.5,262.5H1746.5"/><text class="n" x="1709" y="255">Proxy</text><text x="1673" y="271">+request()</text></g>

<!-- Abstract Factory nodes -->
<g id="af-client"><rect class="u" x="1599.5" y="305.5" width="75" height="19"/><text class="n" x="1637" y="318">Client</text></g>
<g id="af-factory"><rect class="u" x="1509.5" y="329.5" width="75" height="46"/><path class="ln" d="M1509.5,353.5H1584.5"/><text class="s" x="1547" y="339">«interface»</text><text class="c" x="1547" y="349">AbstractFactory</text><text class="i" x="1511" y="362">+createProductA()</text><text class="i" x="1511" y="371">+createProductB()</text></g>
<g id="af-cfactory"><rect class="u" x="1508.5" y="408.5" width="77" height="43"/><path class="ln" d="M1508.5,428.5H1585.5"/><text class="n" x="1547" y="421">ConcreateFactory</text><text x="1510" y="437">+createProductA()</text><text x="1510" y="447">+createProductB()</text></g>
<g id="af-product"><rect class="u" x="1666.5" y="349.5" width="75" height="22"/><text class="s" x="1704" y="358">«interface»</text><text class="c" x="1704" y="367.5">AbstractProduct</text></g>
<g id="af-cproduct"><rect class="u" x="1666.5" y="419.5" width="75" height="19.5"/><text class="n" x="1704" y="432">ConcreteProduct</text></g>

<!-- Builder nodes -->
<g id="bu-director"><rect class="u" x="1522.5" y="485.5" width="74" height="37"/><path class="ln" d="M1522.5,505H1596.5"/><text class="n" x="1559.5" y="498">Director</text><text x="1524" y="514">+construct()</text></g>
<g id="bu-builder"><rect class="u" x="1646.5" y="484.5" width="75" height="40"/><path class="ln" d="M1646.5,507H1721.5"/><text class="s" x="1684" y="492">«interface»</text><text class="n" x="1684" y="503">Builder</text><text class="i" x="1648" y="516">+buildPart()</text></g>
<g id="bu-concrete"><rect class="u" x="1646.5" y="567.5" width="75" height="43"/><path class="ln" d="M1646.5,587.5H1721.5"/><text class="n" x="1684" y="580">ConcreteBuilder</text><text x="1648" y="597">+buildPart()</text><text x="1648" y="607">+getResult()</text></g>

<!-- Factory Method nodes -->
<g id="fm-product"><rect class="u" x="1532.5" y="665.5" width="74" height="23"/><text class="s" x="1569.5" y="675">«interface»</text><text class="c" x="1569.5" y="685">Product</text></g>
<g id="fm-cproduct"><rect class="u" x="1532.5" y="759.5" width="74" height="20"/><text class="n" x="1569.5" y="772">ConcreteProduct</text></g>
<g id="fm-creator"><rect class="u" x="1661.5" y="659.5" width="75" height="43"/><path class="ln" d="M1661.5,679H1736.5"/><text class="n i" x="1699" y="672">Creator</text><text x="1663" y="688">+factoryMethod()</text><text x="1663" y="698">+anOperation()</text></g>
<g id="fm-ccreator"><rect class="u" x="1661.5" y="750.5" width="75" height="38"/><path class="ln" d="M1661.5,770H1736.5"/><text class="n" x="1699" y="763">ConcreteCreator</text><text x="1663" y="779.5">+factoryMethod()</text></g>

<!-- Prototype nodes -->
<g id="pt-client"><rect class="u" x="1509.5" y="828.5" width="75" height="20"/><text class="n" x="1547" y="841">Client</text></g>
<g id="pt-prototype"><rect class="u" x="1597.5" y="853.5" width="75" height="40"/><path class="ln" d="M1597.5,875.5H1672.5"/><text class="s" x="1635" y="862">«interface»</text><text class="n" x="1635" y="872">Prototype</text><text class="i" x="1599" y="885">+clone()</text></g>
<g id="pt-cp1"><rect class="u" x="1527.5" y="930.5" width="85" height="38"/><path class="ln" d="M1527.5,950.5H1612.5"/><text class="n" x="1570" y="943">ConcretePrototype1</text><text x="1529" y="960">+clone()</text></g>
<g id="pt-cp2"><rect class="u" x="1657.5" y="930.5" width="85" height="38"/><path class="ln" d="M1657.5,950.5H1742.5"/><text class="n" x="1700" y="943">ConcretePrototype2</text><text x="1659" y="960">+clone()</text></g>

<!-- Singleton node -->
<g id="sn-singleton"><rect class="u" x="1595.5" y="1026.5" width="88" height="65"/><path class="ln" d="M1595.5,1046.5H1683.5M1595.5,1069H1683.5"/><text class="n" x="1639.5" y="1039">Singleton</text><text x="1597" y="1055">-static uniqueInstance</text><text x="1597" y="1065">-singletonData</text><text x="1597" y="1078">+static instance()</text><text x="1597" y="1088">+SingletonOperation()</text></g>

<!-- footers -->
<g id="footers">
<text class="ft" x="91" y="1186">Copyright © 2007 Jason S. McDonald</text>
<text class="ft" x="91" y="1194">http://www.McDonaldLand.info</text>
<text class="fc" x="485" y="1186">Gamma, Erich; Helm, Richard; Johnson, Ralph; Vlissides, John (1995). <tspan font-style="italic">Design Patterns: Elements of</tspan></text>
<text class="fc" x="484" y="1194"><tspan font-style="italic">Reusable Object-Oriented Software</tspan>. Reading, Massachusetts: Addison Wesley Longman, Inc.</text>
<text class="ft" x="1363" y="1156.5">Copyright © 2007 Jason S. McDonald</text>
<text class="ft" x="1363" y="1164">http://www.McDonaldLand.info</text>
<text class="fc" x="1752" y="1156.5">Gamma, Erich; Helm, Richard; Johnson, Ralph; Vlissides, John (1995). <tspan font-style="italic">Design Patterns: Elements of</tspan></text>
<text class="fc" x="1751" y="1164"><tspan font-style="italic">Reusable Object-Oriented Software</tspan>. Reading, Massachusetts: Addison Wesley Longman, Inc.</text>
</g>

<g id="page">
<text x="907" y="1255" text-anchor="middle" style="font-family:'Noto Sans CJK SC',sans-serif;font-size:32px;fill:#E8141E">设计模式</text>
<text x="1693" y="1254" text-anchor="middle" style="font-family:'DejaVu Sans',sans-serif;font-size:52px;fill:#000">44</text>
<text x="1717" y="1280" text-anchor="middle" style="font-family:'DejaVu Sans Mono',monospace;font-size:11.5px;fill:#ccc">@ordiy.github.io</text>
</g>
</svg>
